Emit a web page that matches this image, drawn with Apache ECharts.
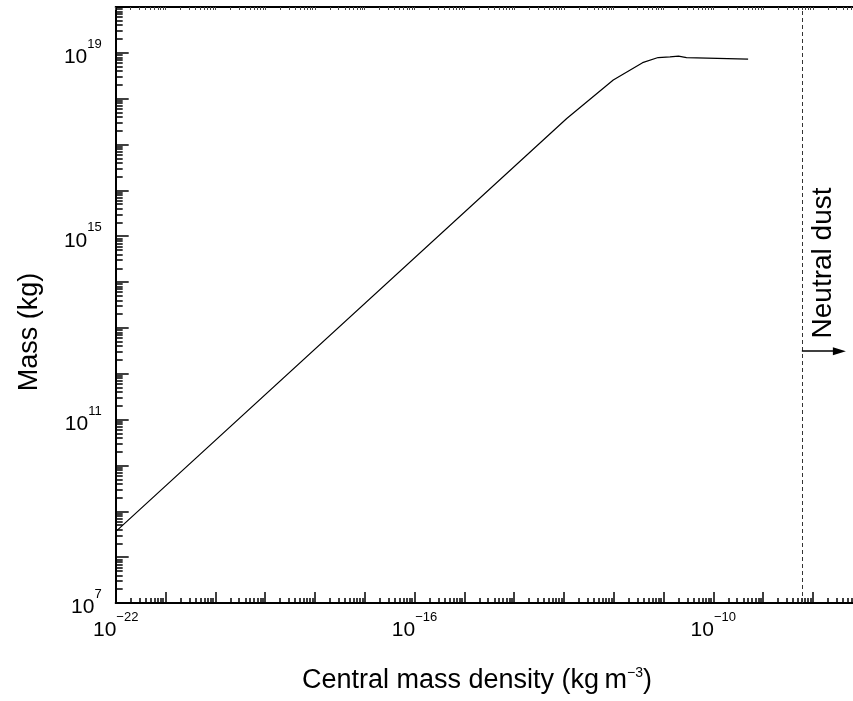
<!DOCTYPE html>
<html>
<head>
<meta charset="utf-8">
<script src="https://cdn.jsdelivr.net/npm/echarts@6/dist/echarts.min.js"></script>
<style>html,body{margin:0;padding:0;background:#fff}#c{width:853px;height:701px}</style>
</head>
<body>
<div id="c"></div>
<script>
const density = [1e-22, 1.14e-13, 9.8e-13, 3.8e-12, 7.8e-12, 1.35e-11, 2.0e-11, 2.9e-11, 5.0e-10];
const mass    = [3.6e8, 3.7e17, 2.55e18, 6.1e18, 7.9e18, 8.2e18, 8.5e18, 7.9e18, 7.3e18];
const xRange = [1e-22, 1e-7];
const yRange = [1e7, 1e20];
const xTickLabels = [1e-22, 1e-16, 1e-10];
const yTickLabels = [1e7, 1e11, 1e15, 1e19];
const neutralDustDensity = 6e-9;
const arrowMass = 3.1e12;
const arrowEndDensity = 3.4e-8;

const lg = v => Math.log10(v);
const FONT = 'Liberation Sans';

function decades(r) { const a = []; for (let e = Math.round(lg(r[0])); e <= Math.round(lg(r[1])); e++) a.push(e); return a; }
function minors(r) { const a = []; const ds = decades(r); for (let i = 0; i < ds.length - 1; i++) for (let k = 2; k <= 9; k++) a.push(ds[i] + Math.log10(k)); return a; }
const supRich = {
  b: { fontFamily: FONT, fontSize: 21, lineHeight: 30, color: '#000', verticalAlign: 'bottom' },
  s: { fontFamily: FONT, fontSize: 13, lineHeight: 12, color: '#000', verticalAlign: 'top', padding: [0, 0, 0, 0] }
};
function fmt(v) { const e = Math.round(v); return '{b|10}{s|' + String(e).replace('-', '\u2212') + '}'; }

const xDec = decades(xRange), xMin = minors(xRange);
const yDec = decades(yRange), yMin = minors(yRange);
const axisLineStyle = { color: '#000', width: 2 };
const tickStyle = { color: '#000', width: 1.5 };

const baseX = { type: 'value', min: lg(xRange[0]), max: lg(xRange[1]), splitLine: { show: false } };
const baseY = { type: 'value', min: lg(yRange[0]), max: lg(yRange[1]), splitLine: { show: false } };

const chart = echarts.init(document.getElementById('c'), null, { renderer: 'canvas' });
chart.setOption({
  animation: false,
  backgroundColor: '#fff',
  grid: { left: 115.7, top: 7, width: 747, height: 596, containLabel: false, outerBoundsMode: 'none' },
  xAxis: [
    Object.assign({}, baseX, { position: 'bottom',
      axisLine: { show: true, lineStyle: axisLineStyle },
      axisTick: { show: true, inside: true, length: 11, customValues: xDec, lineStyle: tickStyle },
      axisLabel: { show: true, margin: 8, customValues: xTickLabels.map(lg), formatter: fmt, rich: supRich } }),
    Object.assign({}, baseX, { position: 'bottom',
      axisLine: { show: false },
      axisTick: { show: true, inside: true, length: 5, customValues: xMin, lineStyle: tickStyle },
      axisLabel: { show: false } }),
    Object.assign({}, baseX, { position: 'top',
      axisLine: { show: true, lineStyle: axisLineStyle },
      axisTick: { show: true, inside: true, length: 3, customValues: xDec.concat(xMin), lineStyle: { color: '#444', width: 1 } },
      axisLabel: { show: false } })
  ],
  yAxis: [
    Object.assign({}, baseY, { position: 'left',
      axisLine: { show: true, lineStyle: axisLineStyle },
      axisTick: { show: true, inside: true, length: 13, customValues: yDec, lineStyle: tickStyle },
      axisLabel: { show: true, margin: 14, customValues: yTickLabels.map(lg), formatter: fmt, rich: supRich } }),
    Object.assign({}, baseY, { position: 'left',
      axisLine: { show: false },
      axisTick: { show: true, inside: true, length: 7, customValues: yMin, lineStyle: tickStyle },
      axisLabel: { show: false } })
  ],
  series: [{
    type: 'line',
    xAxisIndex: 0, yAxisIndex: 0,
    data: density.map((d, i) => [lg(d), lg(mass[i])]),
    showSymbol: false,
    lineStyle: { color: '#000', width: 1.2 },
    markLine: {
      silent: true,
      animation: false,
      label: { show: false },
      data: [
        [{ coord: [lg(neutralDustDensity), lg(yRange[0])], symbol: 'none', lineStyle: { type: [4, 3], color: '#333', width: 1 } },
         { coord: [lg(neutralDustDensity), lg(yRange[1])], symbol: 'none' }],
        [{ coord: [lg(neutralDustDensity), lg(arrowMass)], symbol: 'none', lineStyle: { type: 'solid', color: '#000', width: 1.5 } },
         { coord: [lg(arrowEndDensity), lg(arrowMass)], symbol: 'triangle', symbolSize: [8, 13] }]
      ]
    }
  }],
  graphic: [
    { type: 'text', x: 477, y: 681, style: { text: 'Central mass density (kg\u2009m{s|\u22123})', fontFamily: FONT, fontSize: 27, lineHeight: 30, fill: '#000', align: 'center', verticalAlign: 'middle',
      rich: { s: { fontFamily: FONT, fontSize: 14, lineHeight: 14, verticalAlign: 'top' } } } },
    { type: 'text', x: 30, y: 332, rotation: Math.PI / 2, style: { text: 'Mass (kg)', fontFamily: FONT, fontSize: 27, fill: '#000', align: 'center', verticalAlign: 'middle' } },
    { type: 'text', x: 823, y: 263, rotation: Math.PI / 2, style: { text: 'Neutral dust', fontFamily: FONT, fontSize: 28, fill: '#000', align: 'center', verticalAlign: 'middle' } }
  ]
});
</script>
</body>
</html>
